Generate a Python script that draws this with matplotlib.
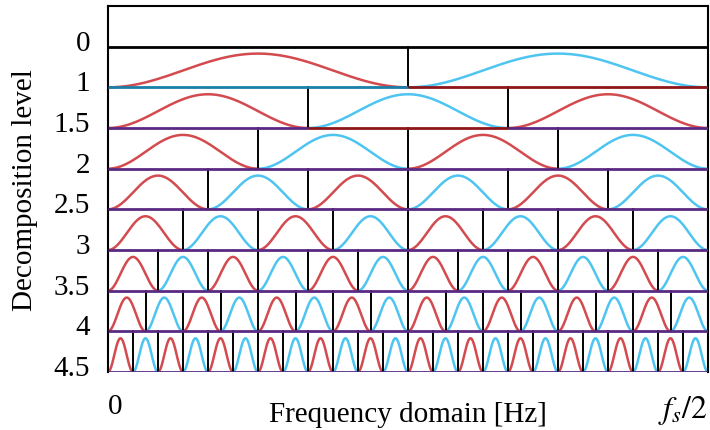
import matplotlib.pyplot as plt
import numpy as np

plt.rcParams['font.family'] = ['Liberation Serif', 'DejaVu Serif']
plt.rcParams['mathtext.fontset'] = 'stix'

# decomposition levels and how many sub-bands each one splits [0, fs/2] into
levels = ['0', '1', '1.5', '2', '2.5', '3', '3.5', '4', '4.5']
n_bands = [1, 2, 3, 4, 6, 8, 12, 16, 24]
# colours of the row's bottom line, one per equal segment (default purple)
base_colors = {
    '0': ['#000000'],
    '1': ['#1b7fa8', '#8e1518'],
    '1.5': ['#5a2a82', '#8e1518', '#5a2a82'],
}

red = '#d34a4f'
blue = '#4ec5f1'
purple = '#5a2a82'
bump_h = 0.83

fig = plt.figure(figsize=(7.1, 4.31), dpi=100)
ax = fig.add_axes([108 / 710, 58 / 431, 600 / 710, 366 / 431])

for row, (lev, n) in enumerate(zip(levels, n_bands)):
    base = row + 1
    edges = np.linspace(0, 1, n + 1)
    # one raised-cosine filter per band (level 0 has none)
    if row > 0:
        for i in range(n):
            x = np.linspace(edges[i], edges[i + 1], 200)
            t = (x - edges[i]) / (edges[i + 1] - edges[i])
            y = base - bump_h * (1 - np.cos(2 * np.pi * t)) / 2
            ax.plot(x, y, color=red if i % 2 == 0 else blue, lw=1.8,
                    solid_capstyle='butt', zorder=2)
    # band separators
    for e in edges[1:-1]:
        ax.plot([e, e], [row, base], color='black', lw=1.4, zorder=3)
    # row bottom line
    cols = base_colors.get(lev, [purple])
    segs = np.linspace(0, 1, len(cols) + 1)
    for c, a, b in zip(cols, segs[:-1], segs[1:]):
        ax.plot([a, b], [base, base], color=c, lw=2.0,
                solid_capstyle='butt', zorder=4)

ax.set_xlim(0, 1)
ax.set_ylim(len(levels), 0)
for s in ax.spines.values():
    s.set_color('black')
    s.set_linewidth(1.5)
ax.spines['bottom'].set_visible(False)

ax.set_yticks(np.arange(1, len(levels) + 1) - 0.17, levels)
ax.tick_params(axis='y', length=0, pad=13, labelsize=21)
ax.set_ylabel('Decomposition level', fontsize=21)
ax.yaxis.set_label_coords(-0.117, 0.5)

ax.set_xticks([0, 1], ['0', '$f_s/2$'])
ax.tick_params(axis='x', length=0, pad=15, labelsize=21)
tl = ax.get_xticklabels()
tl[0].set_horizontalalignment('left')
tl[0].set_x(0.006)
tl[1].set_horizontalalignment('right')
tl[1].set_fontsize(23)
ax.set_xlabel('Frequency domain [Hz]', fontsize=21)
ax.xaxis.set_label_coords(0.5, -0.08)

fig.savefig('out.png', dpi=100)
